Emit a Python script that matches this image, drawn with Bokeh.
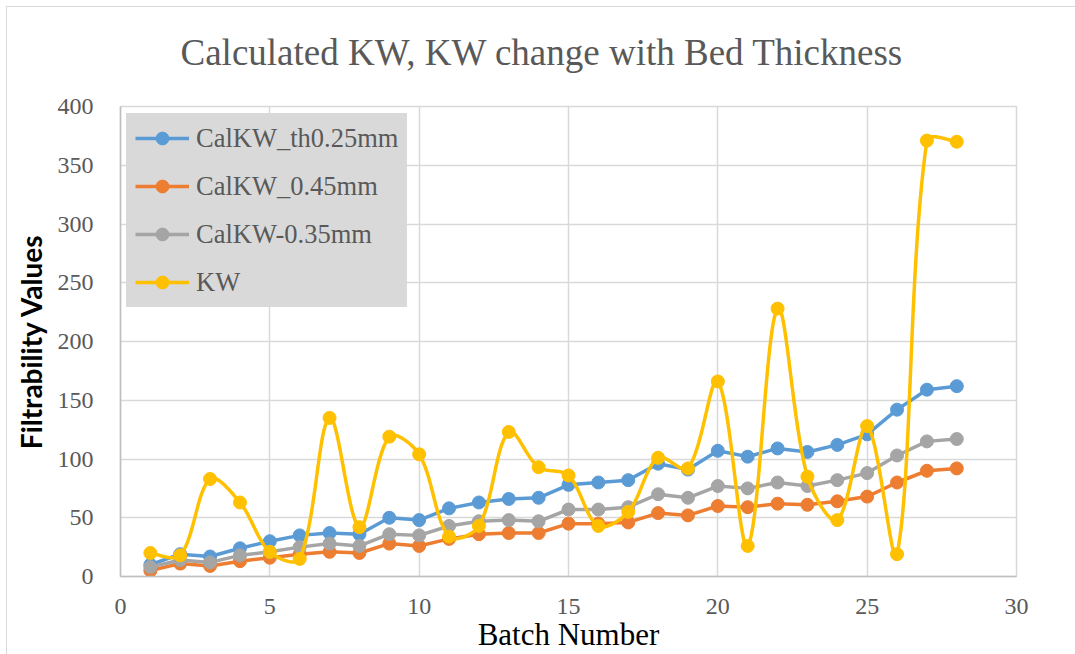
import numpy as np
from bokeh.plotting import figure
from bokeh.models import Legend, LegendItem, SingleIntervalTicker
from bokeh.embed import file_html
from bokeh.resources import INLINE

# Batch numbers and filtrability series
batch = [1, 2, 3, 4, 5, 6, 7, 8, 9, 10, 11, 12, 13, 14,
         15, 16, 17, 18, 19, 20, 21, 22, 23, 24, 25, 26, 27, 28]
calkw_th025 = [10, 19, 17, 24, 30, 35, 37, 36, 50, 48, 58, 63, 66, 67,
               78, 80, 82, 96, 91, 107, 102, 109, 106, 112, 121, 142, 159, 162]
calkw_045 = [5, 11, 9, 13, 16, 19, 21, 20, 28, 26, 32, 36, 37, 37,
             45, 45, 46, 54, 52, 60, 59, 62, 61, 64, 68, 80, 90, 92]
calkw_035 = [8, 14, 12, 18, 21, 25, 28, 26, 36, 35, 43, 47, 48, 47,
             57, 57, 59, 70, 67, 77, 75, 80, 77, 82, 88, 103, 115, 117]
kw = [20, 18, 83, 63, 21, 15, 135, 42, 119, 104, 34, 43, 123, 93,
      86, 43, 55, 101, 92, 166, 26, 228, 85, 48, 128, 19, 371, 370]

series_names = ["CalKW_th0.25mm", "CalKW_0.45mm", "CalKW-0.35mm", "KW"]
series_colors = ["#5B9BD5", "#ED7D31", "#A5A5A5", "#FFC000"]
chart_title = "Calculated KW, KW change with Bed Thickness"

SERIF = "'Liberation Serif', serif"
GREY_TEXT = "#595959"

# plot frame size in pixels, used to smooth the KW curve in screen space
FRAME_W, FRAME_H = 896, 471
X_MAX, Y_MAX = 30, 400


def smooth_curve(xs, ys, steps=30, tension=1.0 / 3.0):
    """Bezier smoothing through every point; tangent lengths are scaled by
    the neighbouring chord lengths so short segments do not overshoot."""
    sx = np.asarray(xs, dtype=float) * FRAME_W / X_MAX
    sy = np.asarray(ys, dtype=float) * FRAME_H / Y_MAX
    pts = np.column_stack([sx, sy])
    n = len(pts)
    t = np.linspace(0.0, 1.0, steps)
    out = []
    for i in range(n - 1):
        p0, p3 = pts[i], pts[i + 1]
        d01 = np.linalg.norm(p3 - p0)
        if i > 0:
            prev = pts[i - 1]
            dp = np.linalg.norm(p0 - prev)
            c1 = p0 + tension * (p3 - prev) * d01 / (dp + d01)
        else:
            c1 = p0 + tension * (p3 - p0) * 0.5
        if i + 2 < n:
            nxt = pts[i + 2]
            dn = np.linalg.norm(nxt - p3)
            c2 = p3 - tension * (nxt - p0) * d01 / (dn + d01)
        else:
            c2 = p3 - tension * (p3 - p0) * 0.5
        b = ((1 - t) ** 3)[:, None] * p0 + (3 * (1 - t) ** 2 * t)[:, None] * c1 \
            + (3 * (1 - t) * t ** 2)[:, None] * c2 + (t ** 3)[:, None] * p3
        if i > 0:
            b = b[1:]
        out.append(b)
    out = np.vstack(out)
    return list(out[:, 0] * X_MAX / FRAME_W), list(out[:, 1] * Y_MAX / FRAME_H)


p = figure(
    width=1075, height=654,
    x_range=(0, X_MAX), y_range=(0, Y_MAX),
    output_backend="svg", toolbar_location=None,
    min_border_left=120, min_border_right=59,
    min_border_top=106, min_border_bottom=77,
)

# Outer chart frame lines (top and left) drawn as page background
p.border_fill_color = None
p.background_fill_color = "white"
p.styles = {
    "background": (
        "linear-gradient(#d9d9d9,#d9d9d9) 6px 6px / 1px 100% no-repeat, "
        "linear-gradient(#d9d9d9,#d9d9d9) 6px 6px / 100% 1px no-repeat, #ffffff"
    )
}

p.title.text = chart_title
p.title.text_font = SERIF
p.title.text_font_size = "37px"
p.title.text_font_style = "normal"
p.title.text_color = GREY_TEXT
p.title.align = "left"
p.title.offset = 60
p.title.vertical_align = "top"
p.title.standoff = 63

p.outline_line_color = "#D9D9D9"
p.outline_line_width = 1.5

for g in (p.xgrid, p.ygrid):
    g.grid_line_color = "#D9D9D9"
    g.grid_line_width = 1.5

p.xaxis.ticker = SingleIntervalTicker(interval=5)
p.yaxis.ticker = SingleIntervalTicker(interval=50)
p.xgrid.ticker = SingleIntervalTicker(interval=5)
p.ygrid.ticker = SingleIntervalTicker(interval=50)

for ax in (p.xaxis, p.yaxis):
    ax.axis_line_color = "#BFBFBF"
    ax.axis_line_width = 1.5
    ax.major_tick_line_color = None
    ax.minor_tick_line_color = None
    ax.major_tick_out = 0
    ax.major_tick_in = 0
    ax.major_label_text_font = SERIF
    ax.major_label_text_font_size = "24px"
    ax.major_label_text_color = GREY_TEXT

p.xaxis.major_label_standoff = 18
p.yaxis.major_label_standoff = 23

p.xaxis.axis_label = "Batch Number"
p.xaxis.axis_label_text_font = SERIF
p.xaxis.axis_label_text_font_size = "31px"
p.xaxis.axis_label_text_font_style = "normal"
p.xaxis.axis_label_text_color = "black"
p.xaxis.axis_label_standoff = 0

p.yaxis.axis_label = "Filtrability Values"
p.yaxis.axis_label_text_font = "Lato"
p.yaxis.axis_label_text_font_size = "28px"
p.yaxis.axis_label_text_font_style = "bold"
p.yaxis.axis_label_text_color = "black"
p.yaxis.axis_label_standoff = 7

items = []
all_series = [calkw_th025, calkw_045, calkw_035, kw]
for name, color, ys in zip(series_names, series_colors, all_series):
    if name == "KW":
        lx, ly = smooth_curve(batch, ys)
    else:
        lx, ly = batch, ys
    line_r = p.line(lx, ly, line_color=color, line_width=3.5, line_join="round")
    dot_r = p.scatter(batch, ys, marker="circle", size=13,
                      fill_color=color, line_color=color)
    items.append(LegendItem(label=name, renderers=[line_r, dot_r]))

legend = Legend(
    items=items,
    location=(6, 269),
    background_fill_color="#D9D9D9",
    background_fill_alpha=1.0,
    border_line_color="#D9D9D9",
    border_line_width=1,
    label_text_font=SERIF,
    label_text_font_size="26.5px",
    label_text_color=GREY_TEXT,
    glyph_width=54,
    glyph_height=32,
    label_height=31,
    label_standoff=7,
    spacing=16,
    padding=8,
    margin=0,
)
p.add_layout(legend)

open("out.html", "w").write(file_html(p, INLINE))
